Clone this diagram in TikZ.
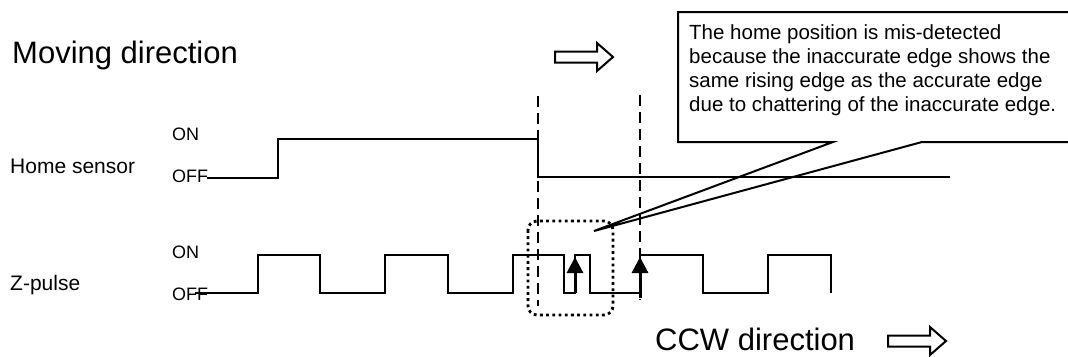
\documentclass[tikz,border=0pt]{standalone}
\usepackage{fontspec}
\setmainfont{Liberation Sans}
\usetikzlibrary{arrows.meta}
\begin{document}
\begin{tikzpicture}[x=1pt,y=-1pt,
  signal/.style={line width=2pt},
  guide/.style={line width=1.8pt, dash pattern=on 11pt off 6pt},
  zone/.style={line width=2.8pt, dash pattern=on 2.8pt off 3.4pt, rounded corners=9pt},
  lbl/.style={anchor=base west, inner sep=0pt, font=\fontsize{21}{25}\selectfont},
  lvl/.style={anchor=base west, inner sep=0pt, font=\fontsize{18}{22}\selectfont},
  big/.style={anchor=base west, inner sep=0pt, font=\fontsize{31}{36}\selectfont},
  hollow/.style={line width=2pt, line join=miter},
  edgearrow/.style={line width=3pt, -{Triangle[length=16pt,width=16pt]}}]
\useasboundingbox (0,0) rectangle (1068,356);

% titles
\node[big] (moving) at (12,63) {Moving direction};
\node[big] (ccw) at (655,350) {CCW direction};
\draw[hollow] (555,51.5) -- (597,51.5) -- (597,43) -- (613,57) -- (597,71) -- (597,62.5) -- (555,62.5) -- cycle;
\draw[hollow] (888,335.5) -- (930,335.5) -- (930,327) -- (946,341) -- (930,355) -- (930,346.5) -- (888,346.5) -- cycle;

% signal names and levels
\node[lbl] (home) at (10,173) {Home sensor};
\node[lbl] (zpulse) at (10,290) {Z-pulse};
\node[lvl] (homeon) at (172,140) {ON};
\node[lvl] (homeoff) at (172,182) {OFF};
\node[lvl] (zon) at (172,258) {ON};
\node[lvl] (zoff) at (172,300) {OFF};

% home sensor
\draw[signal] (207,178) -- (278,178) -- (278,139) -- (538,139) -- (538,177) -- (950,177);

% z-pulse
\draw[signal] (195,293) -| (258,255) -| (320,293) -| (385,255) -| (448,293)
  -| (513,255) -| (564,293) -| (575,255) -| (590,293) -| (640,255)
  -| (703,293) -| (768,255) -| (831,293);
\draw[edgearrow] (575,293) -- (575,257);
\draw[edgearrow] (640,298) -- (640,257);

% detection lines
\draw[guide] (538,96) -- (538,306);
\draw[guide] (640,95) -- (640,300);
\draw[zone] (528,221) rectangle (613,315);

% callout
\draw[line width=2pt] (1075,142) -- (922,142) -- (594,231) -- (833,142) -- (678,142) -- (678,12) -- (1075,12);
\node[anchor=base west, inner sep=0pt, align=left, font=\fontsize{20.5}{24}\selectfont] (note) at (689,111)
  {The home position is mis-detected\\because the inaccurate edge shows the\\same rising edge as the accurate edge\\due to chattering of the inaccurate edge.};
\end{tikzpicture}
\end{document}
